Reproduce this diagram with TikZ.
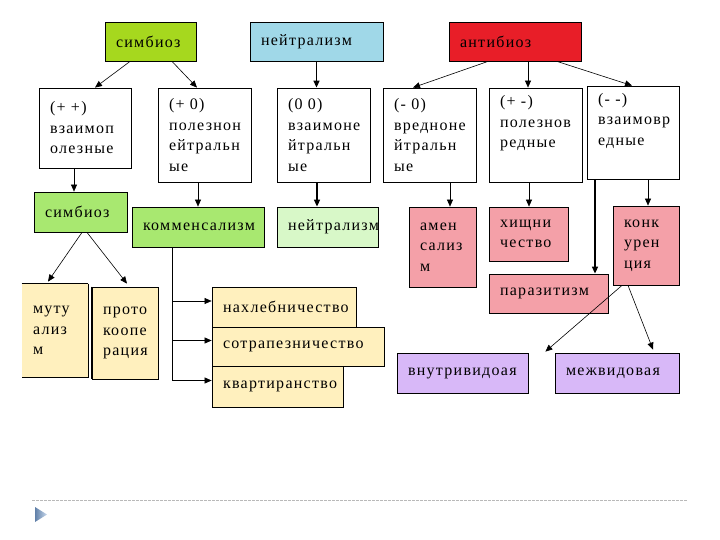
\documentclass[tikz,border=0pt]{standalone}
\usepackage{fontspec}
\setmainfont{Liberation Serif}[LetterSpace=8]
\usetikzlibrary{arrows.meta,calc}
\definecolor{cSym}{RGB}{166,216,30}
\definecolor{cNeu}{RGB}{160,216,232}
\definecolor{cAnt}{RGB}{232,30,40}
\definecolor{cGrn}{RGB}{168,232,112}
\definecolor{cLgr}{RGB}{216,248,200}
\definecolor{cPnk}{RGB}{244,160,168}
\definecolor{cYel}{RGB}{255,240,190}
\definecolor{cPur}{RGB}{216,184,248}
\definecolor{cTri}{RGB}{120,160,210}
\begin{document}
\begin{tikzpicture}[x=1pt,y=-1pt,
  bx/.style={draw=black, line width=0.8pt, inner xsep=11pt, inner ysep=0pt,
    align=left, font=\fontsize{16}{20.5}\selectfont, anchor=center},
  arr/.style={-{Triangle[length=7pt,width=6pt]}, line width=0.6pt},
  tarr/.style={-{Triangle[length=7pt,width=6pt]}, line width=1.5pt},
]
\useasboundingbox (0,0) rectangle (720,540);

% top row
\node[bx, fill=cSym, text width=69pt, minimum height=39pt] (s1) at (150.5,41.5) {симбиоз};
\node[bx, fill=cNeu, text width=111pt, minimum height=39pt] (n1) at (316.5,41.5) {нейтрализм};
\node[bx, fill=cAnt, text width=110pt, minimum height=39pt] (a1) at (515,41.5) {антибиоз};

% second row
\node[bx, fill=white, text width=70pt, minimum height=80pt] (b1) at (85,128) {(+ +)\\взаимоп\\олезные};
\node[bx, fill=white, text width=71pt, minimum height=94pt] (b2) at (204.5,135) {(+ 0)\\полезнон\\ейтральн\\ые};
\node[bx, fill=white, text width=71pt, minimum height=94pt] (b3) at (323.5,135) {(0 0)\\взаимоне\\йтральн\\ые};
\node[bx, fill=white, text width=71pt, minimum height=94pt] (b4) at (429.5,135) {(- 0)\\вредноне\\йтральн\\ые};
\node[bx, fill=white, text width=71pt, minimum height=94pt] (b5) at (535.5,135) {(+ -)\\полезнов\\редные\\\strut};
\node[bx, fill=white, text width=70pt, minimum height=93pt] (b6) at (633,132.5) {(- -)\\взаимовр\\едные\\\strut};

% third row
\node[bx, fill=cGrn, text width=71pt, minimum height=40pt] (s2) at (80.5,212) {симбиоз};
\node[bx, fill=cGrn, text width=110pt, minimum height=40pt] (k) at (198,227) {комменсализм};
\node[bx, fill=cLgr, text width=79pt, minimum height=40pt] (n2) at (327.5,227) {нейтрализм};
\node[bx, fill=cPnk, text width=45pt, minimum height=80pt] (am) at (442.5,247) {амен\\сализ\\м};
\node[bx, fill=cPnk, text width=57pt, minimum height=54pt] (h) at (528.5,234) {хищни\\чество};
\node[bx, fill=cPnk, text width=44pt, minimum height=79pt] (ko) at (646,245.5) {конк\\урен\\ция};
\node[bx, fill=cPnk, text width=97pt, minimum height=39pt] (p) at (548.5,293.5) {паразитизм};

% fourth row
\node[bx, draw=none, fill=cYel, text width=44pt, minimum height=93pt] (m) at (55,330.5) {муту\\ализ\\м};
\draw[line width=1.4pt] (m.north west) -- (m.north east);
\draw[line width=0.8pt] (m.north east) -- (m.south east) -- (m.south west);
\node[bx, fill=cYel, text width=44pt, minimum height=92pt] (pr) at (125,333) {прото\\коопе\\рация};
\draw[line width=1.4pt] (pr.north west) -- (pr.south west);
\node[bx, fill=cYel, text width=122pt, minimum height=40pt] (nah) at (284,307) {нахлебничество};
\node[bx, fill=cYel, text width=150pt, minimum height=39pt] (sot) at (298,346.5) {сотрапезничество};
\node[bx, fill=cYel, text width=109pt, minimum height=41pt] (kv) at (277.5,386.5) {квартиранство};

% fifth row
\node[bx, fill=cPur, text width=109pt, minimum height=40pt] (vn) at (462.5,373) {внутривидоая};
\node[bx, fill=cPur, text width=102pt, minimum height=40pt] (mz) at (617,373) {межвидовая};

% connectors: top -> second row
\draw[arr] ([xshift=-20.5pt]s1.south) -- ([xshift=10pt]b1.north);
\draw[arr] ([xshift=21.5pt]s1.south) -- ([xshift=-7.5pt]b2.north);
\draw[tarr] (n1.south) -- (n1.south |- b3.north);
\draw[arr] ([xshift=-27pt]a1.south) -- ([xshift=-16.5pt]b4.north);
\draw[arr] ([xshift=13pt]a1.south) -- ([xshift=13pt]a1.south |- b5.north);
\draw[arr] ([xshift=42pt]a1.south) -- ([xshift=-1pt]b6.north);

% second -> third row
\draw[arr] ([xshift=-11pt]b1.south) -- ([xshift=-11pt]b1.south |- s2.north);
\draw[arr] ([xshift=-6.5pt]b2.south) -- ([xshift=-6.5pt]b2.south |- k.north);
\draw[tarr] ([xshift=-6.5pt]b3.south) -- ([xshift=-6.5pt]b3.south |- n2.north);
\draw[arr] ([xshift=20.5pt]b4.south) -- ([xshift=20.5pt]b4.south |- am.north);
\draw[arr] ([xshift=-6.5pt]b5.south) -- ([xshift=-6.5pt]b5.south |- h.north);
\draw[tarr] ([xshift=-38pt]b6.south) -- ([xshift=-38pt]b6.south |- p.north);
\draw[arr] ([xshift=15pt]b6.south) -- ([xshift=15pt]b6.south |- ko.north);

% symbiosis -> mutualism / protocooperation
\draw[arr] ([xshift=1.5pt]s2.south) -- ([xshift=-7pt,yshift=2pt]m.north);
\draw[arr] ([xshift=6.5pt]s2.south) -- ([xshift=2pt,yshift=3pt]pr.north);

% commensalism branches
\coordinate (kt) at ([xshift=-26pt]k.south);
\coordinate (nahin) at ([yshift=6pt]nah.west);
\coordinate (sotin) at ([yshift=6pt]sot.west);
\coordinate (kvin) at ([yshift=6pt]kv.west);
\draw[line width=0.8pt] (kt) -- (kt |- kvin);
\draw[arr] (kt |- nahin) -- (nahin);
\draw[arr] (kt |- sotin) -- (sotin);
\draw[arr] (kt |- kvin) -- (kvin);

% competition -> intra / inter
\coordinate (vnin) at ([xshift=17pt,yshift=1pt]vn.north east);
\coordinate (mzin) at ([xshift=36pt,yshift=3pt]mz.north);
\draw[arr] ([xshift=-24pt]ko.south) -- (vnin);
\draw[arr] ([xshift=-18pt]ko.south) -- (mzin);

% slide footer decoration
\draw[gray!55, line width=0.9pt, dash pattern=on 3pt off 1pt] (32,500) -- (688,500);
\shade[left color=cTri!80!black, right color=cTri!40] (35,507) -- (47,514.5) -- (35,522) -- cycle;
\end{tikzpicture}
\end{document}
